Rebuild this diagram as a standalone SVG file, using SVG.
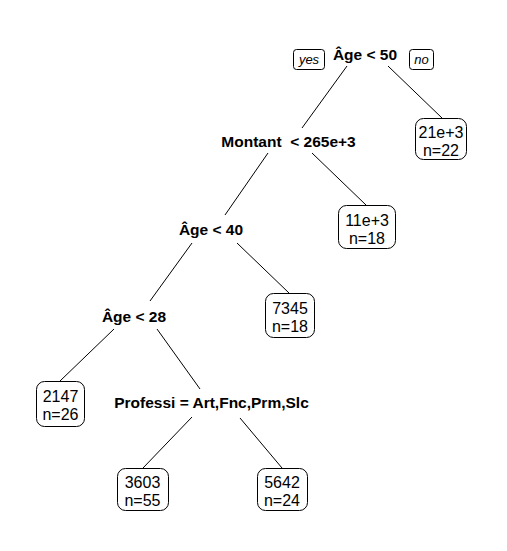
<svg xmlns="http://www.w3.org/2000/svg" width="507" height="551" viewBox="0 0 507 551">
<style>
.split{font-family:"Liberation Sans",Arial,sans-serif;font-weight:bold;font-size:15.5px;text-anchor:middle;fill:#000;white-space:pre}
.leaf{font-family:"Liberation Sans",Arial,sans-serif;font-size:16px;text-anchor:middle;fill:#000}
.yn{font-family:"Liberation Sans",Arial,sans-serif;font-style:italic;font-size:13px;text-anchor:middle;fill:#000}
.box{fill:#fff;stroke:#000;stroke-width:1}
.edge{stroke:#000;stroke-width:1;fill:none}
</style>
<rect width="507" height="551" fill="#fff"/>
<g id="connectors">
<line class="edge" x1="347" y1="66" x2="302" y2="128"/>
<line class="edge" x1="388" y1="66" x2="442" y2="118"/>
<line class="edge" x1="268" y1="153" x2="225" y2="215"/>
<line class="edge" x1="312" y1="153" x2="366" y2="205"/>
<line class="edge" x1="192" y1="243" x2="150" y2="301"/>
<line class="edge" x1="237" y1="243" x2="289" y2="293"/>
<line class="edge" x1="114" y1="329" x2="60" y2="381"/>
<line class="edge" x1="157" y1="329" x2="200" y2="389"/>
<line class="edge" x1="192" y1="417" x2="143" y2="468"/>
<line class="edge" x1="240" y1="418" x2="282" y2="468"/>
</g>
<g id="root">
<text class="split" x="365" y="60">Âge &lt; 50</text>
</g>
<g id="yes-label">
<rect class="box" x="293.5" y="49.5" width="31" height="20" rx="3"/>
<text class="yn" x="309" y="64">yes</text>
</g>
<g id="no-label">
<rect class="box" x="409.5" y="49.5" width="24" height="20" rx="3"/>
<text class="yn" x="421.5" y="64">no</text>
</g>
<g id="montant">
<text class="split" x="288.5" y="147">Montant  &lt; 265e+3</text>
</g>
<g id="leaf-21e3">
<rect class="box" x="415.5" y="118.5" width="51" height="41" rx="8"/>
<text class="leaf" x="441" y="138">21e+3</text>
<text class="leaf" x="441" y="156">n=22</text>
</g>
<g id="age40">
<text class="split" x="211" y="235">Âge &lt; 40</text>
</g>
<g id="leaf-11e3">
<rect class="box" x="338.5" y="205.5" width="57" height="43" rx="8"/>
<text class="leaf" x="367" y="226">11e+3</text>
<text class="leaf" x="367" y="244">n=18</text>
</g>
<g id="age28">
<text class="split" x="134" y="322">Âge &lt; 28</text>
</g>
<g id="leaf-7345">
<rect class="box" x="265.5" y="293.5" width="49" height="44" rx="8"/>
<text class="leaf" x="290" y="314">7345</text>
<text class="leaf" x="290" y="332">n=18</text>
</g>
<g id="leaf-2147">
<rect class="box" x="36.5" y="381.5" width="48" height="45" rx="8"/>
<text class="leaf" x="60.5" y="402">2147</text>
<text class="leaf" x="60.5" y="420">n=26</text>
</g>
<g id="professi">
<text class="split" x="211.5" y="408">Professi = Art,Fnc,Prm,Slc</text>
</g>
<g id="leaf-3603">
<rect class="box" x="117.5" y="468.5" width="51" height="42" rx="8"/>
<text class="leaf" x="142.5" y="488">3603</text>
<text class="leaf" x="142.5" y="506">n=55</text>
</g>
<g id="leaf-5642">
<rect class="box" x="257.5" y="468.5" width="50" height="42" rx="8"/>
<text class="leaf" x="282" y="488">5642</text>
<text class="leaf" x="282" y="506">n=24</text>
</g>
</svg>
